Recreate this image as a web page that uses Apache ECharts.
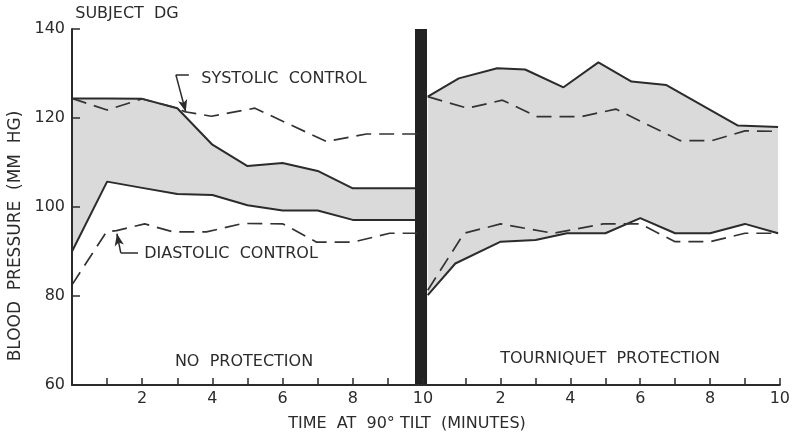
<!DOCTYPE html>
<html>
<head>
<meta charset="utf-8">
<script src="https://cdn.jsdelivr.net/npm/echarts@6/dist/echarts.min.js"></script>
<style>
  html, body { margin: 0; padding: 0; background: #fff; }
  #main { width: 793px; height: 437px; }
</style>
</head>
<body>
<div id="main"></div>
<script>
// time in minutes, pressure in mm Hg
// left panel: no protection
var leftTime = [0, 1, 2, 3, 4, 5, 6, 7, 8, 10];
var leftSystolic = [124.4, 124.4, 124.3, 122.2, 114, 109.2, 109.9, 108.1, 104.2, 104.2];
var leftDiastolic = [90, 105.7, 104.3, 102.9, 102.7, 100.4, 99.2, 99.2, 97.1, 97.1];

var leftSysCtrlTime = [0, 1, 2, 3, 3.21, 3.97, 5.21, 7.25, 8.39, 10];
var leftSysCtrl = [124.4, 121.8, 124.3, 122.2, 121.4, 120.4, 122.2, 114.7, 116.4, 116.4];
var leftDiaCtrlTime = [0, 0.98, 1.27, 2.07, 2.88, 3.83, 4.87, 6.01, 6.97, 8.0, 9.05, 10];
var leftDiaCtrl = [82.5, 94.4, 94.7, 96.2, 94.4, 94.4, 96.3, 96.2, 92.1, 92.1, 94.1, 94.1];

// right panel: tourniquet protection
var rightSysTime = [-0.09, 0.8, 1.9, 2.7, 3.8, 4.8, 5.75, 6.75, 8.8, 9.95];
var rightSystolic = [124.8, 128.9, 131.2, 130.9, 126.9, 132.5, 128.2, 127.4, 118.3, 118.0];
var rightDiaTime = [-0.09, 0.7, 2, 3, 3.9, 5, 6, 7, 8, 9, 9.95];
var rightDiastolic = [80.2, 87.3, 92.2, 92.6, 94.1, 94.1, 97.5, 94.1, 94.1, 96.2, 94.1];

var rightSysCtrlTime = [-0.09, 1.05, 2.05, 3.05, 4.3, 5.3, 7.15, 8.05, 9.0, 9.95];
var rightSysCtrl = [124.8, 122.2, 124.0, 120.3, 120.3, 122.0, 114.9, 114.9, 117.1, 117.0];
var rightDiaCtrlTime = [-0.09, 0.95, 2, 3.5, 4.95, 6, 7, 8, 9, 9.95];
var rightDiaCtrl = [81.3, 94.1, 96.2, 94.1, 96.2, 96.2, 92.2, 92.2, 94.1, 94.1];

var yTicks = [60, 80, 100, 120, 140];
var xTicks = [1, 2, 3, 4, 5, 6, 7, 8, 9, 10];
var xLabels = [2, 4, 6, 8, 10];

function pairs(xs, ys) {
  var out = [];
  for (var i = 0; i < xs.length; i++) out.push([xs[i], ys[i]]);
  return out;
}

var ink = '#2b2b2b';
var shade = '#dadada';
var font = 'DejaVu Sans';

var myChart = echarts.init(document.getElementById('main'));

function xAxisFor(idx, min) {
  return {
    type: 'value', gridIndex: idx, min: min, max: 10, z: 10,
    axisLine: { show: true, lineStyle: { color: ink, width: 2 } },
    axisTick: { show: true, inside: true, length: 7, customValues: xTicks,
                lineStyle: { color: ink, width: 1.5 } },
    axisLabel: { customValues: xLabels, color: ink, fontSize: 16, fontFamily: font, margin: 6 },
    splitLine: { show: false }
  };
}

function yAxisFor(idx, visible) {
  return {
    type: 'value', gridIndex: idx, min: 60, max: 140, z: 10, show: visible,
    axisLine: { show: true, lineStyle: { color: ink, width: 2 } },
    axisTick: { show: true, inside: true, length: 8, customValues: yTicks,
                lineStyle: { color: ink, width: 1.5 } },
    axisLabel: { customValues: yTicks, color: ink, fontSize: 16, fontFamily: font, margin: 7 },
    splitLine: { show: false }
  };
}

function solid(name, idx, data, fill, z) {
  return {
    name: name, type: 'line', xAxisIndex: idx, yAxisIndex: idx, z: z,
    data: data, symbol: 'none', animation: false,
    lineStyle: { color: ink, width: 2 },
    areaStyle: { color: fill, opacity: 1, origin: 'start' }
  };
}

function dashed(name, idx, data) {
  return {
    name: name, type: 'line', xAxisIndex: idx, yAxisIndex: idx, z: 5,
    data: data, symbol: 'none', animation: false,
    lineStyle: { color: '#333', width: 1.7, type: [15, 8] }
  };
}

var leaderStyle = { color: ink, width: 1.5, type: 'solid' };

var sysCtrlLeft = dashed('Systolic control', 0, pairs(leftSysCtrlTime, leftSysCtrl));
sysCtrlLeft.markLine = {
  silent: true, animation: false, label: { show: false }, lineStyle: leaderStyle,
  data: [
    [{ coord: [3.33, 129.7], symbol: 'none' }, { coord: [2.96, 129.7], symbol: 'none' }],
    [{ coord: [2.96, 129.7], symbol: 'none' }, { coord: [3.24, 121.4], symbol: 'arrow', symbolSize: [7, 12] }]
  ]
};

var diaCtrlLeft = dashed('Diastolic control', 0, pairs(leftDiaCtrlTime, leftDiaCtrl));
diaCtrlLeft.markLine = {
  silent: true, animation: false, label: { show: false }, symbol: 'none',
  data: [
    [{ coord: [1.88, 89.7], symbol: 'none', lineStyle: leaderStyle },
     { coord: [1.39, 89.7], symbol: 'none' }],
    [{ coord: [1.39, 89.7], symbol: 'none', lineStyle: leaderStyle },
     { coord: [1.28, 94.0], symbol: 'arrow', symbolSize: [7, 12] }],
    // separator between the two panels
    { xAxis: 9.94, symbol: 'none', lineStyle: { color: '#222', width: 12, type: 'solid' } }
  ]
};

myChart.setOption({
  backgroundColor: '#fff',
  animation: false,
  grid: [
    { left: 72, top: 29, width: 351, height: 356 },
    { left: 396, top: 29, width: 386, height: 356 }
  ],
  xAxis: [xAxisFor(0, 0), xAxisFor(1, -1)],
  yAxis: [yAxisFor(0, true), yAxisFor(1, false)],
  series: [
    solid('Systolic', 0, pairs(leftTime, leftSystolic), shade, 1),
    solid('Diastolic', 0, pairs(leftTime, leftDiastolic), '#fff', 2),
    sysCtrlLeft,
    diaCtrlLeft,
    solid('Systolic', 1, pairs(rightSysTime, rightSystolic), shade, 1),
    solid('Diastolic', 1, pairs(rightDiaTime, rightDiastolic), '#fff', 2),
    dashed('Systolic control', 1, pairs(rightSysCtrlTime, rightSysCtrl)),
    dashed('Diastolic control', 1, pairs(rightDiaCtrlTime, rightDiaCtrl))
  ],
  graphic: [
    { type: 'text', x: 127, y: 14, z: 20, style: { text: 'SUBJECT  DG', font: '16px ' + font, fill: ink, textAlign: 'center', textVerticalAlign: 'middle' } },
    { type: 'text', x: 284, y: 79, z: 20, style: { text: 'SYSTOLIC  CONTROL', font: '16px ' + font, fill: ink, textAlign: 'center', textVerticalAlign: 'middle' } },
    { type: 'text', x: 231, y: 254, z: 20, style: { text: 'DIASTOLIC  CONTROL', font: '16px ' + font, fill: ink, textAlign: 'center', textVerticalAlign: 'middle' } },
    { type: 'text', x: 244, y: 362, z: 20, style: { text: 'NO  PROTECTION', font: '16px ' + font, fill: ink, textAlign: 'center', textVerticalAlign: 'middle' } },
    { type: 'text', x: 610, y: 359, z: 20, style: { text: 'TOURNIQUET  PROTECTION', font: '16px ' + font, fill: ink, textAlign: 'center', textVerticalAlign: 'middle' } },
    { type: 'text', x: 407, y: 424, z: 20, style: { text: 'TIME  AT  90° TILT  (MINUTES)', font: '16px ' + font, fill: ink, textAlign: 'center', textVerticalAlign: 'middle' } },
    { type: 'text', x: 16, y: 236, rotation: Math.PI / 2, z: 20, style: { text: 'BLOOD  PRESSURE  (MM  HG)', font: '17px ' + font, fill: ink, textAlign: 'center', textVerticalAlign: 'middle' } }
  ]
});
</script>
</body>
</html>
